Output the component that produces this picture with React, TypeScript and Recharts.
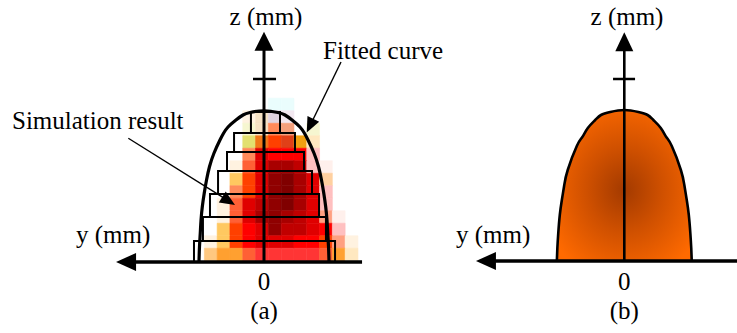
import React from 'react';
import {
  ComposedChart,
  XAxis,
  YAxis,
  Line,
  Area,
  ReferenceArea,
  ReferenceLine,
} from 'recharts';

// ---------------- data ----------------
// simulation result grid (rows listed from top to bottom), values are colour levels
const heatCell = 0.1; // mm per cell
const heatStartY = -0.466; // mm, left edge of first column
const heatStartZ = 0.01; // mm, bottom edge of last row
const heatLevels: number[][] = [
  [0, 0, 0, 0, 0, 1, 1, 0, 0, 0, 0, 0],
  [0, 0, 0, 4, 5, 2, 3, 0, 0, 0, 0, 0],
  [0, 0, 0, 6, 5, 11, 12, 0, 6, 0, 0, 0],
  [0, 0, 0, 7, 10, 14, 26, 27, 25, 0, 0, 0],
  [0, 0, 0, 11, 16, 15, 15, 15, 21, 0, 0, 0],
  [0, 0, 4, 13, 16, 18, 18, 17, 21, 22, 0, 0],
  [0, 0, 8, 14, 16, 19, 20, 18, 16, 28, 0, 0],
  [0, 0, 11, 14, 16, 19, 20, 18, 16, 21, 0, 0],
  [0, 4, 13, 16, 17, 19, 20, 18, 16, 21, 0, 0],
  [0, 4, 13, 16, 18, 19, 18, 17, 16, 23, 22, 0],
  [0, 8, 14, 15, 16, 19, 17, 17, 16, 15, 21, 0],
  [4, 8, 14, 15, 16, 16, 16, 15, 15, 14, 23, 4],
  [29, 9, 9, 13, 24, 24, 24, 24, 24, 13, 9, 25],
];

// stepped layers (mm)
const stepLeft = [-0.102, -0.234, -0.289, -0.359, -0.422, -0.477, -0.547];
const stepRight = [0.125, 0.242, 0.3125, 0.375, 0.43, 0.484, 0.555];
const stepTop = [1.2, 1.032, 0.88, 0.728, 0.544, 0.36, 0.168];
const stepBottom = [1.032, 0.88, 0.728, 0.544, 0.36, 0.168, 0];

// fitted curve (a)
const fitY = [
  -0.508, -0.504, -0.498, -0.492, -0.482, -0.467, -0.449, -0.426, -0.391, -0.344, -0.316, -0.281,
  -0.219, -0.164, -0.109, 0, 0.109, 0.164, 0.219, 0.281, 0.316, 0.344, 0.391, 0.426, 0.449, 0.467,
  0.482, 0.492, 0.498, 0.504, 0.508,
];
const fitZ = [
  0, 0.122, 0.23, 0.336, 0.442, 0.55, 0.656, 0.762, 0.87, 0.976, 1.03, 1.08, 1.136, 1.176, 1.196,
  1.21, 1.196, 1.176, 1.136, 1.08, 1.03, 0.976, 0.87, 0.762, 0.656, 0.55, 0.442, 0.336, 0.23,
  0.122, 0,
];

// model shape (b)
const modelY = [
  -0.527, -0.523, -0.516, -0.504, -0.488, -0.469, -0.442, -0.371, -0.328, -0.285, -0.227, -0.182,
  -0.11, 0, 0.11, 0.182, 0.227, 0.285, 0.328, 0.371, 0.442, 0.469, 0.488, 0.504, 0.516, 0.523,
  0.527,
];
const modelZ = [
  0, 0.104, 0.222, 0.368, 0.488, 0.608, 0.728, 0.92, 0.992, 1.064, 1.128, 1.168, 1.192, 1.208,
  1.192, 1.168, 1.128, 1.064, 0.992, 0.92, 0.728, 0.608, 0.488, 0.368, 0.222, 0.104, 0,
];

const zTickA = 1.464;
const zTickB = 1.456;
const tickLabels = ['0'];
const axisTitleY = 'y (mm)';
const axisTitleZ = 'z (mm)';
const panelTitles = ['(a)', '(b)'];
const noteFit = 'Fitted curve';
const noteSim = 'Simulation result';

// ---------------- styles ----------------
const palette: Record<number, string> = {
  1: '#eafdfd',
  2: '#e0d4e0',
  3: '#f2e8f0',
  4: '#fff2e0',
  5: '#f5e2c4',
  6: '#f6f6d0',
  7: '#e2e070',
  8: '#ffc860',
  9: '#ffa030',
  10: '#f07818',
  11: '#ff8a5a',
  12: '#f4a07c',
  13: '#ff6035',
  14: '#ff4000',
  15: '#ff0000',
  16: '#e00000',
  17: '#c00000',
  18: '#a80000',
  19: '#900000',
  20: '#800000',
  21: '#ffc0c0',
  22: '#fff0ec',
  23: '#ffa080',
  24: '#ff3535',
  25: '#ffe8c0',
  26: '#e04018',
  27: '#f0a010',
  28: '#ffd0a0',
  29: '#ffc880',
};

const FONT = '"Liberation Serif", "Times New Roman", Times, serif';
const FS = 25;

const fitData = fitY.map((u, i) => ({ u, z: fitZ[i] }));
const modelData = modelY.map((u, i) => ({ u, z: modelZ[i] }));

const heatCells: { x1: number; x2: number; y1: number; y2: number; fill: string; key: string }[] = [];
heatLevels.forEach((row, r) => {
  row.forEach((lv, c) => {
    if (!lv) return;
    const x1 = heatStartY + c * heatCell;
    const y1 = heatStartZ + (heatLevels.length - 1 - r) * heatCell;
    heatCells.push({ x1, x2: x1 + heatCell, y1, y2: y1 + heatCell, fill: palette[lv], key: `${r}-${c}` });
  });
});

// arrow drawn from (x1,y1) to (x2,y2) with a filled head at (x2,y2)
const arrowShape = (headLen: number, headHalf: number, width: number) => (p: any) => {
  const { x1, y1, x2, y2 } = p;
  if ([x1, y1, x2, y2].some((v) => typeof v !== 'number' || isNaN(v))) return <g />;
  const dx = x2 - x1;
  const dy = y2 - y1;
  const L = Math.sqrt(dx * dx + dy * dy) || 1;
  const ux = dx / L;
  const uy = dy / L;
  const bx = x2 - ux * headLen;
  const by = y2 - uy * headLen;
  const px = -uy * headHalf;
  const py = ux * headHalf;
  const ex = x2 - ux * headLen * 0.7;
  const ey = y2 - uy * headLen * 0.7;
  return (
    <g>
      <line x1={x1} y1={y1} x2={ex} y2={ey} stroke="#000" strokeWidth={width} />
      <polygon points={`${x2},${y2} ${bx + px},${by + py} ${bx - px},${by - py}`} fill="#000" />
    </g>
  );
};

const txt = (x: number, y: number, s: string, anchor: 'start' | 'middle' | 'end' = 'start') => (
  <text
    x={x}
    y={y}
    textAnchor={anchor}
    style={{ fontFamily: FONT, fontSize: FS, fill: '#000' }}
  >
    {s}
  </text>
);

const A_W = 470;
const B_LEFT = 440;
const B_W = 737 - B_LEFT;

function PanelA() {
  return (
    <ComposedChart width={A_W} height={333} margin={{ top: 0, right: 0, bottom: 0, left: 0 }}>
      <XAxis type="number" dataKey="u" domain={[-2.0625, (A_W - 264) / 128]} hide allowDataOverflow />
      <YAxis type="number" dataKey="z" domain={[-0.568, 2.096]} hide allowDataOverflow />
      {heatCells.map((c) => (
        <ReferenceArea
          key={c.key}
          x1={c.x1}
          x2={c.x2}
          y1={c.y1}
          y2={c.y2}
          fill={c.fill}
          fillOpacity={1}
          stroke={c.fill}
          strokeWidth={0.6}
          ifOverflow="visible"
        />
      ))}
      {stepLeft.map((l, i) => (
        <ReferenceArea
          key={`s${i}`}
          x1={l}
          x2={stepRight[i]}
          y1={stepBottom[i]}
          y2={stepTop[i]}
          fill="none"
          fillOpacity={0}
          stroke="#000"
          strokeWidth={2}
          ifOverflow="visible"
        />
      ))}
      <Line
        data={fitData}
        dataKey="z"
        type="natural"
        stroke="#000"
        strokeWidth={3.2}
        dot={false}
        activeDot={false}
        isAnimationActive={false}
      />
      <ReferenceLine
        segment={[{ x: 0.766, y: 0 }, { x: -1.156, y: 0 }]}
        shape={arrowShape(20, 9, 3.5)}
        ifOverflow="visible"
      />
      <ReferenceLine
        segment={[{ x: 0, y: 0 }, { x: 0, y: 1.842 }]}
        shape={arrowShape(19, 9.5, 3)}
        ifOverflow="visible"
      />
      <ReferenceLine
        segment={[{ x: -0.086, y: zTickA }, { x: 0.094, y: zTickA }]}
        stroke="#000"
        strokeWidth={2.5}
        ifOverflow="visible"
      />
      <ReferenceLine
        segment={[{ x: 0.6016, y: 1.6 }, { x: 0.334, y: 1.037 }]}
        shape={arrowShape(15, 6.5, 1.4)}
        ifOverflow="visible"
      />
      <ReferenceLine
        segment={[{ x: -1.06, y: 0.99 }, { x: -0.2266, y: 0.456 }]}
        shape={arrowShape(15, 6.5, 1.4)}
        ifOverflow="visible"
      />
      {txt(266, 25, axisTitleZ, 'middle')}
      {txt(323, 59, noteFit)}
      {txt(12, 129, noteSim)}
      {txt(76, 243, axisTitleY)}
      {txt(264, 290, tickLabels[0], 'middle')}
      {txt(264, 319, panelTitles[0], 'middle')}
    </ComposedChart>
  );
}

function PanelB() {
  return (
    <ComposedChart width={B_W} height={333} margin={{ top: 0, right: 0, bottom: 0, left: 0 }}>
      <defs>
        <radialGradient id="modelGlow" cx="0.5" cy="0.53" r="0.62">
          <stop offset="0%" stopColor="#a33a00" />
          <stop offset="45%" stopColor="#cf5000" />
          <stop offset="100%" stopColor="#ff6a00" />
        </radialGradient>
      </defs>
      <XAxis type="number" dataKey="u" domain={[(B_LEFT - 624.3) / 128, (737 - 624.3) / 128]} hide allowDataOverflow />
      <YAxis type="number" dataKey="z" domain={[-0.576, 2.088]} hide allowDataOverflow />
      <Area
        data={modelData}
        dataKey="z"
        type="natural"
        baseValue={0}
        fill="url(#modelGlow)"
        fillOpacity={1}
        stroke="#000"
        strokeWidth={2.6}
        dot={false}
        activeDot={false}
        isAnimationActive={false}
      />
      <ReferenceLine
        segment={[{ x: (737 - 624.3) / 128, y: 0 }, { x: -1.159, y: 0 }]}
        shape={arrowShape(20, 9, 3.5)}
        ifOverflow="visible"
      />
      <ReferenceLine
        segment={[{ x: 0, y: 0 }, { x: 0, y: 1.83 }]}
        shape={arrowShape(19, 9, 2.6)}
        ifOverflow="visible"
      />
      <ReferenceLine
        segment={[{ x: -0.088, y: zTickB }, { x: 0.084, y: zTickB }]}
        stroke="#000"
        strokeWidth={2.5}
        ifOverflow="visible"
      />
      {txt(627 - B_LEFT, 25, axisTitleZ, 'middle')}
      {txt(456 - B_LEFT, 243, axisTitleY)}
      {txt(624.3 - B_LEFT, 290, tickLabels[0], 'middle')}
      {txt(624.3 - B_LEFT, 319, panelTitles[1], 'middle')}
    </ComposedChart>
  );
}

export default function App() {
  return (
    <div style={{ position: 'absolute', left: 0, top: 0, width: 737, height: 333, background: '#fff' }}>
      <div style={{ position: 'absolute', left: 0, top: 0 }}>
        <PanelA />
      </div>
      <div style={{ position: 'absolute', left: B_LEFT, top: 0 }}>
        <PanelB />
      </div>
    </div>
  );
}
